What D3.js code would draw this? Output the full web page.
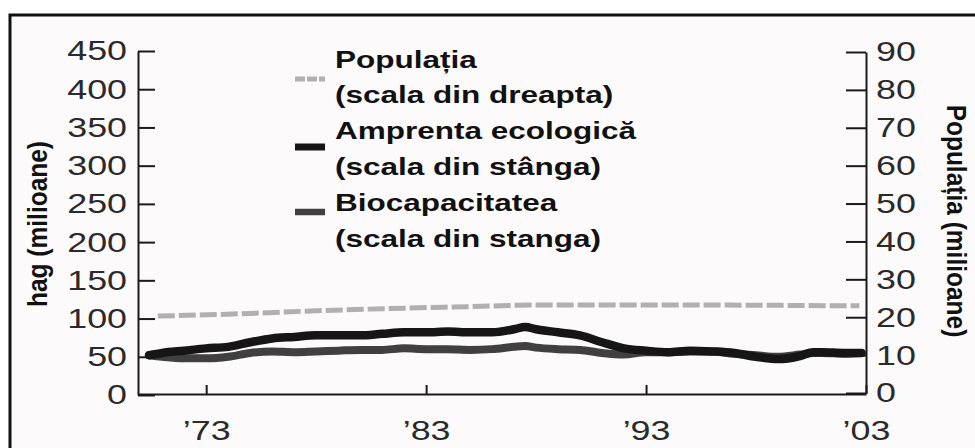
<!DOCTYPE html>
<html>
<head>
<meta charset="utf-8">
<script src="https://cdn.jsdelivr.net/npm/d3@7"></script>
<style>
  html, body { margin: 0; padding: 0; background: #fff; }
  svg { display: block; }
</style>
</head>
<body>
<svg id="chart" width="975" height="448"></svg>
<script>
"use strict";

// amprenta ecologica si biocapacitatea (hag, milioane) - scala din stanga
const fpYears = [1970.4, 1971, 1972, 1973, 1974, 1975, 1976, 1977, 1978, 1979, 1980, 1981, 1982,
    1983, 1984, 1985, 1986, 1987, 1987.5, 1988, 1989, 1990, 1991, 1992, 1993, 1994, 1995,
    1996, 1997, 1998, 1999, 2000, 2000.6, 2001, 2002, 2002.8];
const footprint = [52, 55, 58, 61, 63, 69, 74, 76, 78, 78, 78, 80, 82,
    82, 83, 82, 82, 86, 89, 86, 82, 78, 69, 61, 58, 56, 58,
    57, 55, 50, 47, 51, 56, 56, 55, 55];
const biocapacity = [52, 50, 48, 48, 50, 55, 57, 56, 57, 58, 59, 59, 61,
    60, 60, 59, 60, 63, 64, 62, 60, 59, 55, 53, 56, 56, 57,
    57, 54, 52, 50, 53, 55, 55, 54, 55];

// populatia (milioane) - scala din dreapta
const popYears = [1970.8, 1975, 1978, 1982, 1985, 1988, 1992, 1996, 2000, 2002.7];
const population = [20.3, 21.0, 21.7, 22.4, 22.8, 23.2, 23.2, 23.2, 23.1, 23.0];

const leftTicks = [0, 50, 100, 150, 200, 250, 300, 350, 400, 450];
const rightTicks = [0, 10, 20, 30, 40, 50, 60, 70, 80, 90];
const xTicks = [1973, 1983, 1993, 2003];
const xTickLabels = ["’73", "’83", "’93", "’03"];

const legendLines = [
    ["Populația", "(scala din dreapta)"],
    ["Amprenta ecologică", "(scala din stânga)"],
    ["Biocapacitatea", "(scala din stanga)"]
];

const svg = d3.select("#chart");

// fundal + rama
svg.append("rect")
    .attr("x", 10).attr("y", 15)
    .attr("width", 965).attr("height", 433)
    .attr("fill", "#fdfafc");
svg.append("path")
    .attr("d", "M10,448V15H975")
    .attr("fill", "none")
    .attr("stroke", "#111")
    .attr("stroke-width", 3);

const x = d3.scaleLinear().domain([1969.9, 2003]).range([138, 866]);
const yL = d3.scaleLinear().domain([0, 450]).range([395, 51]);
const yR = d3.scaleLinear().domain([0, 90]).range([393, 52]);

const SX = 1.28;   // fontul din original e mai lat
const tickFont = "'Liberation Sans', Arial, sans-serif";

function styleAxis(g) {
    g.attr("font-family", tickFont).attr("font-size", 28);
    g.select(".domain").attr("stroke", "#1a1a1a").attr("stroke-width", 2);
    g.selectAll(".tick line").attr("stroke", "#1a1a1a").attr("stroke-width", 2);
    g.selectAll(".tick text").attr("fill", "#2a2a2a").attr("transform", `scale(${SX},1)`);
}

// axa stanga
svg.append("g")
    .attr("transform", "translate(138,0)")
    .call(d3.axisLeft(yL).tickValues(leftTicks).tickSizeInner(-17).tickSizeOuter(0).tickPadding(11 / SX))
    .call(styleAxis);

// axa dreapta
svg.append("g")
    .attr("transform", "translate(866,0)")
    .call(d3.axisRight(yR).tickValues(rightTicks).tickSizeInner(-20).tickSizeOuter(0).tickPadding(10 / SX))
    .call(styleAxis);

// axa de jos
svg.append("g")
    .attr("transform", "translate(0,394)")
    .call(d3.axisBottom(x).tickValues(xTicks).tickFormat((d, i) => xTickLabels[i])
        .tickSizeInner(-9).tickSizeOuter(0).tickPadding(26))
    .call(styleAxis);

// titluri axe
svg.append("text")
    .attr("transform", "translate(47,224) rotate(-90) scale(1,1.1)")
    .attr("text-anchor", "middle")
    .attr("font-family", tickFont).attr("font-weight", "bold").attr("font-size", 24.5)
    .attr("fill", "#111")
    .text("hag (milioane)");
svg.append("text")
    .attr("transform", "translate(947,221) rotate(90) scale(1,1.1)")
    .attr("text-anchor", "middle")
    .attr("font-family", tickFont).attr("font-weight", "bold").attr("font-size", 24.5)
    .attr("fill", "#111")
    .text("Populația (milioane)");

// linii
const lineL = d3.line().x(d => x(d[0])).y(d => yL(d[1])).curve(d3.curveMonotoneX);
const lineR = d3.line().x(d => x(d[0])).y(d => yR(d[1])).curve(d3.curveMonotoneX);

svg.append("path")
    .attr("d", lineR(d3.zip(popYears, population)))
    .attr("fill", "none").attr("stroke", "#b0b0b0")
    .attr("stroke-width", 5).attr("stroke-dasharray", "17,4");
svg.append("path")
    .attr("d", lineL(d3.zip(fpYears, biocapacity)))
    .attr("fill", "none").attr("stroke", "#404040")
    .attr("stroke-width", 8).attr("stroke-linecap", "round");
svg.append("path")
    .attr("d", lineL(d3.zip(fpYears, footprint)))
    .attr("fill", "none").attr("stroke", "#161616")
    .attr("stroke-width", 8.5).attr("stroke-linecap", "round");

// legenda
const swatchY = [79, 147, 212];
const swatchStyle = [
    { stroke: "#b0b0b0", width: 5, dash: "10,2" },
    { stroke: "#161616", width: 7, dash: null },
    { stroke: "#404040", width: 6.5, dash: null }
];
const LSX = 1.37;
const lineStep = 35.8;

legendLines.forEach((lines, i) => {
    let st = swatchStyle[i];
    svg.append("line")
        .attr("x1", 295).attr("x2", 325)
        .attr("y1", swatchY[i]).attr("y2", swatchY[i])
        .attr("stroke", st.stroke).attr("stroke-width", st.width)
        .attr("stroke-dasharray", st.dash);
    lines.forEach((t, j) => {
        let by = 67.5 + (i * 2 + j) * lineStep;
        svg.append("text")
            .attr("transform", `translate(335,${by}) scale(${LSX},1)`)
            .attr("font-family", tickFont).attr("font-weight", "bold").attr("font-size", 23)
            .attr("fill", "#111")
            .text(t);
    });
});
</script>
</body>
</html>
